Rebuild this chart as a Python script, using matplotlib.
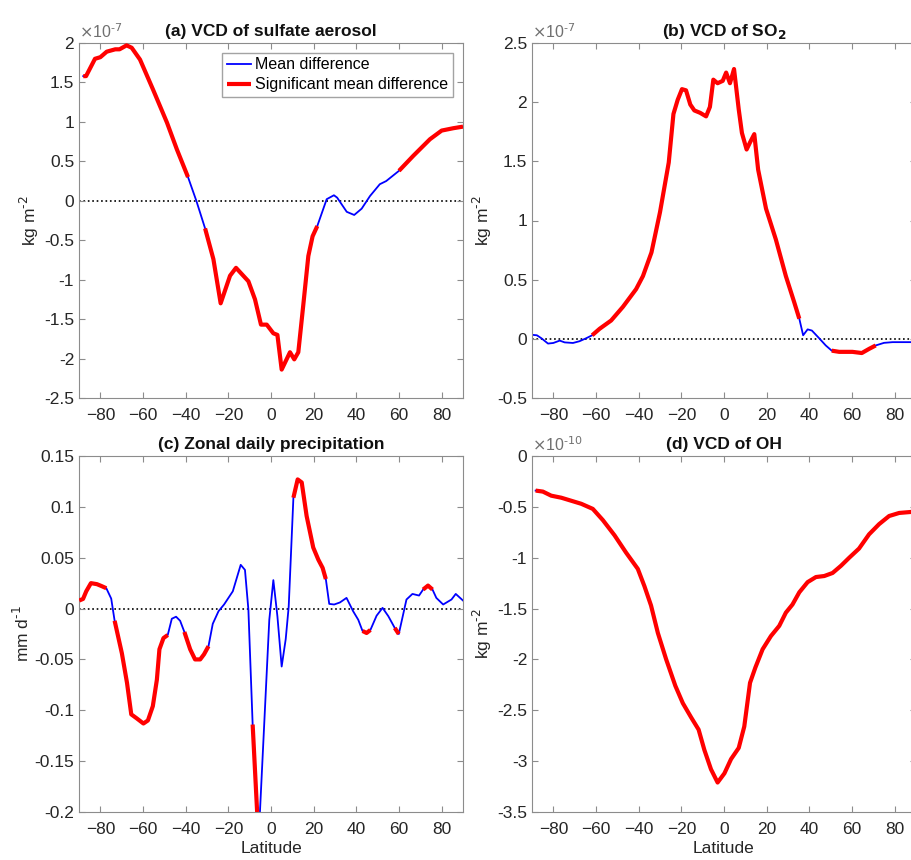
import numpy as np
import matplotlib.pyplot as plt

plt.rcParams['font.family'] = ['Liberation Sans', 'DejaVu Sans']

# (a) sulfate aerosol VCD difference, units 1e-7 kg m-2
lat_a = [-88, -86.7, -82.5, -80, -77, -73, -71, -67.7, -65.3, -61.4, -55.3, -48.75, -44.1, -38.9,
         -35, -30.9, -27, -23.6, -19.2, -16.4, -10.6, -7.5, -4.7, -2, 1.1, 3, 5, 8.9,
         10.9, 12.8, 15.1, 17.5, 19.5, 21.7, 26.1, 29.5, 31, 35.5, 39, 42.5, 46.4, 51, 54,
         60, 66.7, 74.5, 80, 85.5, 90]
val_a = [1.58, 1.58, 1.80, 1.82, 1.89, 1.92, 1.92, 1.97, 1.94, 1.79, 1.41, 0.99, 0.65, 0.30,
         0.0, -0.35, -0.74, -1.30, -0.95, -0.85, -1.02, -1.25, -1.57, -1.57, -1.68, -1.70, -2.14, -1.92,
         -2.01, -1.92, -1.33, -0.70, -0.45, -0.32, 0.02, 0.07, 0.04, -0.14, -0.18, -0.10, 0.06, 0.21, 0.25,
         0.38, 0.57, 0.78, 0.89, 0.92, 0.94]
sig_a = [1, 1, 1, 1, 1, 1, 1, 1, 1, 1, 1, 1, 1, 1,
         0, 1, 1, 1, 1, 1, 1, 1, 1, 1, 1, 1, 1, 1,
         1, 1, 1, 1, 1, 1, 0, 0, 0, 0, 0, 0, 0, 0, 0,
         1, 1, 1, 1, 1, 1]

# (b) SO2 VCD difference, units 1e-7 kg m-2
lat_b = [-90, -87.7, -85.6, -82.5, -80, -77, -74.7, -70.8, -67.7, -64.6, -61.8, -58.3, -52.9,
         -47.4, -41.2, -38, -34, -30, -25.9, -23.7, -21.7, -19.7, -17.8, -15.8, -13.9, -11.2,
         -8.4, -6.6, -5, -3, -0.6, 1, 2.8, 4.7, 6.9, 8.4, 10.6, 12.2, 14.2, 16, 19.7, 24.3,
         29, 32.9, 35.3, 37.1, 39.2, 41.2, 44.6, 47.7, 50.5, 54, 60.2, 64.6, 68, 71.1, 75,
         79, 87.7, 90]
val_b = [0.034, 0.03, 0.005, -0.04, -0.035, -0.015, -0.03, -0.035, -0.02, 0.005, 0.03, 0.085, 0.155,
         0.27, 0.42, 0.53, 0.73, 1.07, 1.49, 1.90, 2.02, 2.11, 2.10, 1.98, 1.93, 1.91,
         1.88, 1.96, 2.19, 2.16, 2.18, 2.25, 2.16, 2.28, 1.94, 1.74, 1.60, 1.66, 1.73, 1.43, 1.10, 0.84,
         0.53, 0.31, 0.17, 0.03, 0.08, 0.07, 0.005, -0.056, -0.10, -0.11, -0.11, -0.12, -0.085, -0.056, -0.034,
         -0.028, -0.028, -0.028]
sig_b = [0, 0, 0, 0, 0, 0, 0, 0, 0, 0, 1, 1, 1,
         1, 1, 1, 1, 1, 1, 1, 1, 1, 1, 1, 1, 1,
         1, 1, 1, 1, 1, 1, 1, 1, 1, 1, 1, 1, 1, 1, 1, 1,
         1, 1, 1, 0, 0, 0, 0, 0, 1, 1, 1, 1, 1, 1, 0,
         0, 0, 0]

# (c) zonal daily precipitation difference, mm d-1
lat_c = [-89.9, -88.1, -86.6, -84.4, -81.6, -79.3, -77.2, -74.9, -73.3, -69.9, -67.5, -65.5,
         -62.9, -59.8, -57.7, -55.4, -53.5, -52.3, -50.4, -48.4, -46.5, -44.5, -42.6, -40.6,
         -37.9, -35.6, -33.2, -31.4, -29.3, -27.3, -24.6, -22, -17.9, -14.2, -12.2, -10.6,
         -8.6, -6.5, -5.3, -0.8, 1.1, 3, 5, 6.9, 8.3, 10.5, 12.5, 14.4, 16.7, 19.8, 22.2,
         24.2, 25.7, 27.3, 29.6, 32.3, 35.4, 38.5, 40.9, 42.9, 44.8, 46.6, 49.5, 52.3, 55,
         58, 59.9, 63.5, 66.3, 69.4, 71.3, 73.6, 75.7, 77.5, 80.7, 84.6, 86.6, 90]
val_c = [0.0079, 0.0095, 0.017, 0.025, 0.024, 0.022, 0.020, 0.0098, -0.012, -0.044, -0.073, -0.104,
         -0.108, -0.113, -0.110, -0.096, -0.070, -0.040, -0.029, -0.026, -0.010, -0.008, -0.012, -0.023,
         -0.040, -0.050, -0.050, -0.045, -0.037, -0.015, -0.0026, 0.004, 0.017, 0.043, 0.038, -0.001,
         -0.114, -0.200, -0.205, -0.011, 0.028, -0.0075, -0.057, -0.030, 0.002, 0.109, 0.127, 0.124, 0.091, 0.060, 0.048,
         0.040, 0.029, 0.0046, 0.004, 0.006, 0.0105, -0.0026, -0.011, -0.022, -0.024, -0.021, -0.007, 0.0007, -0.0075,
         -0.019, -0.025, 0.0089, 0.0144, 0.0128, 0.0187, 0.0226, 0.0187, 0.0105, 0.004, 0.0089, 0.0144, 0.0079]
sig_c = [1, 1, 1, 1, 1, 1, 1, 0, 1, 1, 1, 1,
         1, 1, 1, 1, 1, 1, 1, 1, 0, 0, 0, 1,
         1, 1, 1, 1, 1, 0, 0, 0, 0, 0, 0, 0,
         1, 1, 0, 0, 0, 0, 0, 0, 0, 1, 1, 1, 1, 1, 1,
         1, 1, 0, 0, 0, 0, 0, 0, 1, 1, 1, 0, 0, 0,
         1, 1, 0, 0, 0, 1, 1, 1, 0, 0, 0, 0, 0]

# (d) OH VCD difference, units 1e-10 kg m-2
lat_d = [-88.3, -84.9, -81, -76.3, -71.6, -66.9, -61.5, -56.8, -51.3, -45.9, -40.4, -37.3, -34.2,
         -31, -27.1, -22.8, -19.3, -15.4, -11.9, -9.2, -6.1, -3, 0.2, 3.3, 6.9, 9.5, 12.2, 14.7,
         18.1, 22, 25.9, 29, 32.1, 35.3, 39.2, 43.1, 47, 50.9, 54.8, 58.7, 63.3, 68, 72.7, 77.4,
         82.1, 87.7, 90]
val_d = [-0.34, -0.35, -0.39, -0.41, -0.44, -0.47, -0.52, -0.63, -0.78, -0.95, -1.11, -1.28, -1.47,
         -1.74, -2.0, -2.26, -2.43, -2.57, -2.69, -2.89, -3.08, -3.21, -3.12, -2.98, -2.87, -2.66, -2.23, -2.08,
         -1.90, -1.77, -1.67, -1.54, -1.46, -1.34, -1.24, -1.19, -1.18, -1.15, -1.08, -1.00, -0.91, -0.77, -0.67, -0.59,
         -0.56, -0.55, -0.55]
sig_d = [1] * len(lat_d)

W, H = 912, 860
fig = plt.figure(figsize=(W / 100, H / 100), dpi=100)

kgm = r'kg m$^{\text{-2}}$'
panels = [
    (lat_a, val_a, sig_a, '(a) VCD of sulfate aerosol', kgm, (-2.5, 2), 0.5, r'$\times$10$^{\text{-7}}$', False),
    (lat_b, val_b, sig_b, '(b) VCD of SO$_\\mathbf{2}$', kgm, (-0.5, 2.5), 0.5, r'$\times$10$^{\text{-7}}$', False),
    (lat_c, val_c, sig_c, '(c) Zonal daily precipitation', r'mm d$^{\text{-1}}$', (-0.2, 0.15), 0.05, None, True),
    (lat_d, val_d, sig_d, '(d) VCD of OH', kgm, (-3.5, 0), 0.5, r'$\times$10$^{\text{-10}}$', True),
]
rects = [
    (79 / W, 1 - 398 / H, 384 / W, 355 / H),
    (532 / W, 1 - 398 / H, 384 / W, 355 / H),
    (79 / W, 1 - 812 / H, 384 / W, 356 / H),
    (532 / W, 1 - 812 / H, 384 / W, 356 / H),
]

gray = '#262626'
for (lat, val, sig, title, ylab, ylim, step, offs, bottom), rect in zip(panels, rects):
    ax = fig.add_axes(rect)
    lat = np.array(lat)
    val = np.array(val)
    red = np.where(np.array(sig) == 1, val, np.nan)
    ax.axhline(0, color='k', ls=':', lw=1.2, zorder=1)
    l1, = ax.plot(lat, val, color='#0000ff', lw=1.3, zorder=2)
    l2, = ax.plot(lat, red, color='#ff0000', lw=3, zorder=3, solid_capstyle='butt')
    ax.set_xlim(-90, 90)
    ax.set_ylim(*ylim)
    ax.set_xticks(np.arange(-80, 81, 20))
    yt = np.round(np.arange(ylim[0], ylim[1] + step / 2, step), 4)
    ax.set_yticks(yt)
    ax.set_yticklabels(['%g' % (0 if abs(v) < 1e-9 else v) for v in yt])
    ax.tick_params(direction='in', top=True, right=True, labelsize=12.5, colors='#8c8c8c',
                   labelcolor=gray, length=4, width=0.8)
    ax.tick_params(axis='x', pad=7)
    for s in ax.spines.values():
        s.set_color('#8c8c8c')
        s.set_linewidth(0.8)
    ax.set_title(title, fontsize=12.5, fontweight='bold', color='#111111', pad=5)
    ax.set_ylabel(ylab, fontsize=12.5, color=gray, labelpad=2)
    if bottom:
        ax.set_xlabel('Latitude', fontsize=12.5, color=gray, labelpad=3)
    if offs:
        ax.text(0.0, 1.005, offs, transform=ax.transAxes, fontsize=11.5, color='#707070',
                ha='left', va='bottom')
    if title.startswith('(a)'):
        ax.legend([l1, l2], ['Mean difference', 'Significant mean difference'],
                  loc='upper right', fontsize=11.5, frameon=True, fancybox=False,
                  edgecolor='#8c8c8c', borderpad=0.3, handlelength=1.5, handletextpad=0.3,
                  labelspacing=0.3, borderaxespad=0.6)

fig.savefig('out.png', dpi=100)
